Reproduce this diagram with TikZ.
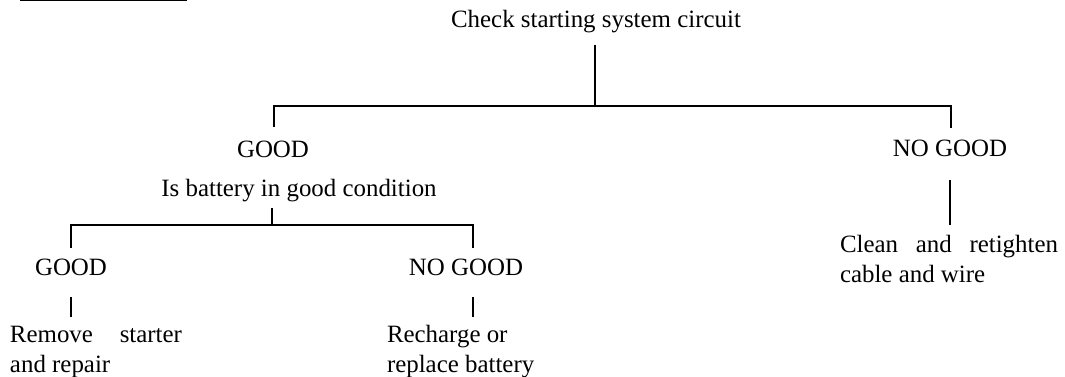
\documentclass[tikz,border=0pt]{standalone}
\usepackage{fontspec}
\setmainfont{Liberation Serif}
\begin{document}
\begin{tikzpicture}[x=0.5pt,y=-0.5pt,
  lbl/.style={inner sep=0pt,outer sep=0pt,font=\fontsize{12.45pt}{14.94pt}\selectfont,align=left},
  heavy/.style={line width=1.25pt},
  light/.style={line width=0.8pt},
  rule/.style={line width=0.5pt}]
\useasboundingbox (0,0) rectangle (1065,376);
% top-left rule
\coordinate (r1) at (20,0.6);
\coordinate (r2) at (187,0.6);
\draw[rule] (r1) -- (r2);
% texts (multi-line nodes: base = last line)
\node[lbl,anchor=base] (title) at (596,27) {Check starting system circuit};
\node[lbl,anchor=base] (good1) at (273,157) {GOOD};
\node[lbl,anchor=base] (nogood1) at (950,156) {NO GOOD};
\node[lbl,anchor=base] (battery) at (299,196) {Is battery in good condition};
\node[lbl,anchor=base] (good2) at (71,275) {GOOD};
\node[lbl,anchor=base] (nogood2) at (466,275) {NO GOOD};
\node[lbl,anchor=base west] (remove) at (10,372) {\makebox[86pt][s]{Remove starter}\\and repair};
\node[lbl,anchor=base west] (recharge) at (387,372) {Recharge or\\replace battery};
\node[lbl,anchor=base west] (clean) at (840,282) {\makebox[109pt][s]{Clean and retighten}\\cable and wire};
% connector points
\coordinate (t0) at (595,45);
\coordinate (t1) at (595,106);
\coordinate (tl) at (274,106);
\coordinate (tr) at (951,106);
\coordinate (g1) at (274,127);
\coordinate (n1) at (951,128);
\coordinate (n1a) at (950,180);
\coordinate (n1b) at (950,225);
\coordinate (b0) at (272,208);
\coordinate (b1) at (272,225);
\coordinate (bl) at (71,225);
\coordinate (br) at (473,225);
\coordinate (g2) at (71,248);
\coordinate (n2) at (473,248);
\coordinate (g2a) at (71,297);
\coordinate (g2b) at (71,317);
\coordinate (n2a) at (473,297);
\coordinate (n2b) at (473,317);
% connectors
\draw[heavy] (t0) -- (t1);
\draw[heavy] (g1) -- (tl) -- (tr) -- (n1);
\draw[light] (n1a) -- (n1b);
\draw[light] (b0) -- (b1);
\draw[light] (g2) -- (bl) -- (br) -- (n2);
\draw[light] (g2a) -- (g2b);
\draw[light] (n2a) -- (n2b);
\end{tikzpicture}
\end{document}
